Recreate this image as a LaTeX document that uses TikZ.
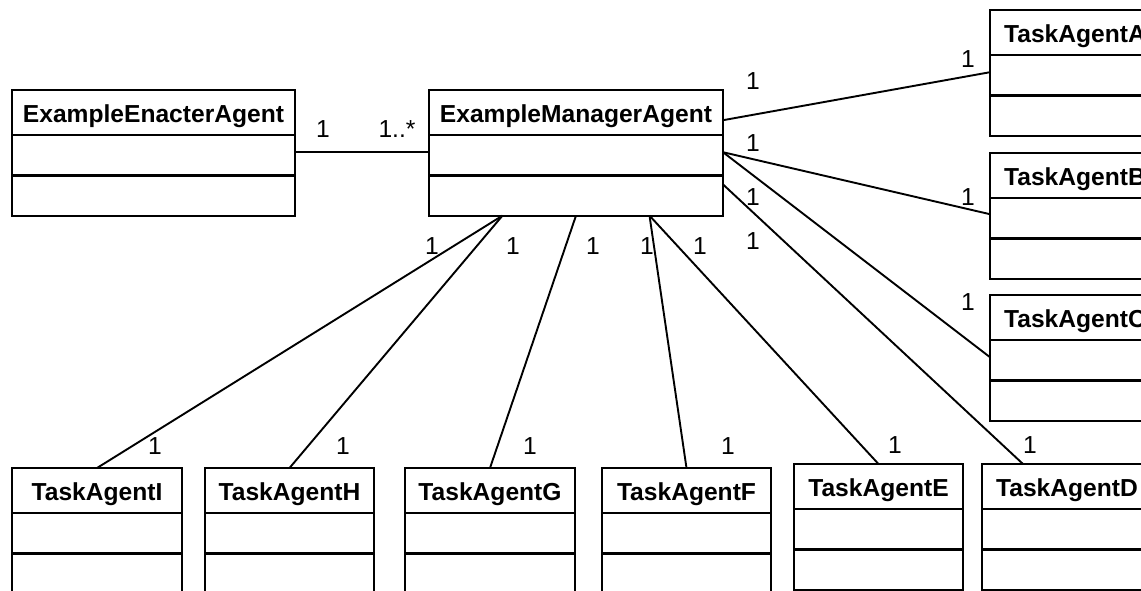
\documentclass[tikz,border=0pt]{standalone}
\usepackage{fontspec}
\setmainfont{Liberation Sans}
\usetikzlibrary{shapes.multipart,calc}
\newcommand{\headstrut}{\rule[-12pt]{0pt}{43pt}}

\begin{document}
\begin{tikzpicture}[
		x=1pt, y=-1pt,
		agent/.style={draw, line width=2.2pt, rectangle split, rectangle split parts=3,
				rectangle split empty part height=38pt, rectangle split empty part depth=0pt,
				inner xsep=0pt, inner ysep=0pt, outer sep=0pt, anchor=north west,
				font=\fontsize{24.6}{30}\selectfont\bfseries},
		link/.style={line width=1.9pt},
		mult/.style={anchor=base, inner sep=0pt, font=\fontsize{24.6}{30}\selectfont}
	]
	\useasboundingbox (0,0) rectangle (1141,590);
	\clip (0,0) rectangle (1141,590);

	% classes
	\node[agent, minimum width=283pt] (enacter) at (12,90) {\headstrut ExampleEnacterAgent};
	\node[agent, minimum width=294pt] (manager) at (429,90) {\headstrut ExampleManagerAgent};
	\node[agent, minimum width=170pt] (taskA) at (990,10) {\headstrut TaskAgentA};
	\node[agent, minimum width=170pt] (taskB) at (990,153) {\headstrut TaskAgentB};
	\node[agent, minimum width=170pt] (taskC) at (990,295) {\headstrut TaskAgentC};
	\node[agent, minimum width=170pt] (taskD) at (982,464) {\headstrut TaskAgentD};
	\node[agent, minimum width=169pt] (taskE) at (794,464) {\headstrut TaskAgentE};
	\node[agent, minimum width=169pt] (taskF) at (602,468) {\headstrut TaskAgentF};
	\node[agent, minimum width=170pt] (taskG) at (405,468) {\headstrut TaskAgentG};
	\node[agent, minimum width=169pt] (taskH) at (205,468) {\headstrut TaskAgentH};
	\node[agent, minimum width=170pt] (taskI) at (12,468) {\headstrut TaskAgentI};

	% associations
	\draw[link] ([yshift=-17pt]enacter.one split east) -- ([yshift=-17pt]manager.one split west);
	\draw[link] ([yshift=15pt]manager.one split east) -- ([yshift=-17pt]taskA.one split west);
	\draw[link] ([yshift=-17pt]manager.one split east) -- ([yshift=-16pt]taskB.one split west);
	\draw[link] ([yshift=-17pt]manager.one split east) -- ([yshift=-17pt]taskC.one split west);
	\draw[link] ([yshift=-9pt]manager.two split east) -- ([xshift=-44pt]taskD.north);
	\draw[link] ($(manager.south west)!0.75!(manager.south east)$) -- (taskE.north);
	\draw[link] ($(manager.south west)!0.75!(manager.south east)$) -- (taskF.north);
	\draw[link] ($(manager.south west)!0.5!(manager.south east)$) -- (taskG.north);
	\draw[link] ($(manager.south west)!0.25!(manager.south east)$) -- (taskH.north);
	\draw[link] ($(manager.south west)!0.25!(manager.south east)$) -- (taskI.north);

	% multiplicities
	\node[mult] (mEnacter) at (323,137) {1};
	\node[mult] (mManager) at (397,137) {1..*};
	\node[mult] (mA1) at (753,89) {1};
	\node[mult] (mB1) at (753,151) {1};
	\node[mult] (mC1) at (753,205) {1};
	\node[mult] (mD1) at (753,249) {1};
	\node[mult] (mA2) at (968,67) {1};
	\node[mult] (mB2) at (968,205) {1};
	\node[mult] (mC2) at (968,310) {1};
	\node[mult] (mI1) at (432,254) {1};
	\node[mult] (mH1) at (513,254) {1};
	\node[mult] (mG1) at (593,254) {1};
	\node[mult] (mF1) at (647,254) {1};
	\node[mult] (mE1) at (700,254) {1};
	\node[mult] (mI2) at (155,454) {1};
	\node[mult] (mH2) at (343,454) {1};
	\node[mult] (mG2) at (530,454) {1};
	\node[mult] (mF2) at (728,454) {1};
	\node[mult] (mE2) at (895,453) {1};
	\node[mult] (mD2) at (1030,453) {1};
\end{tikzpicture}
\end{document}
